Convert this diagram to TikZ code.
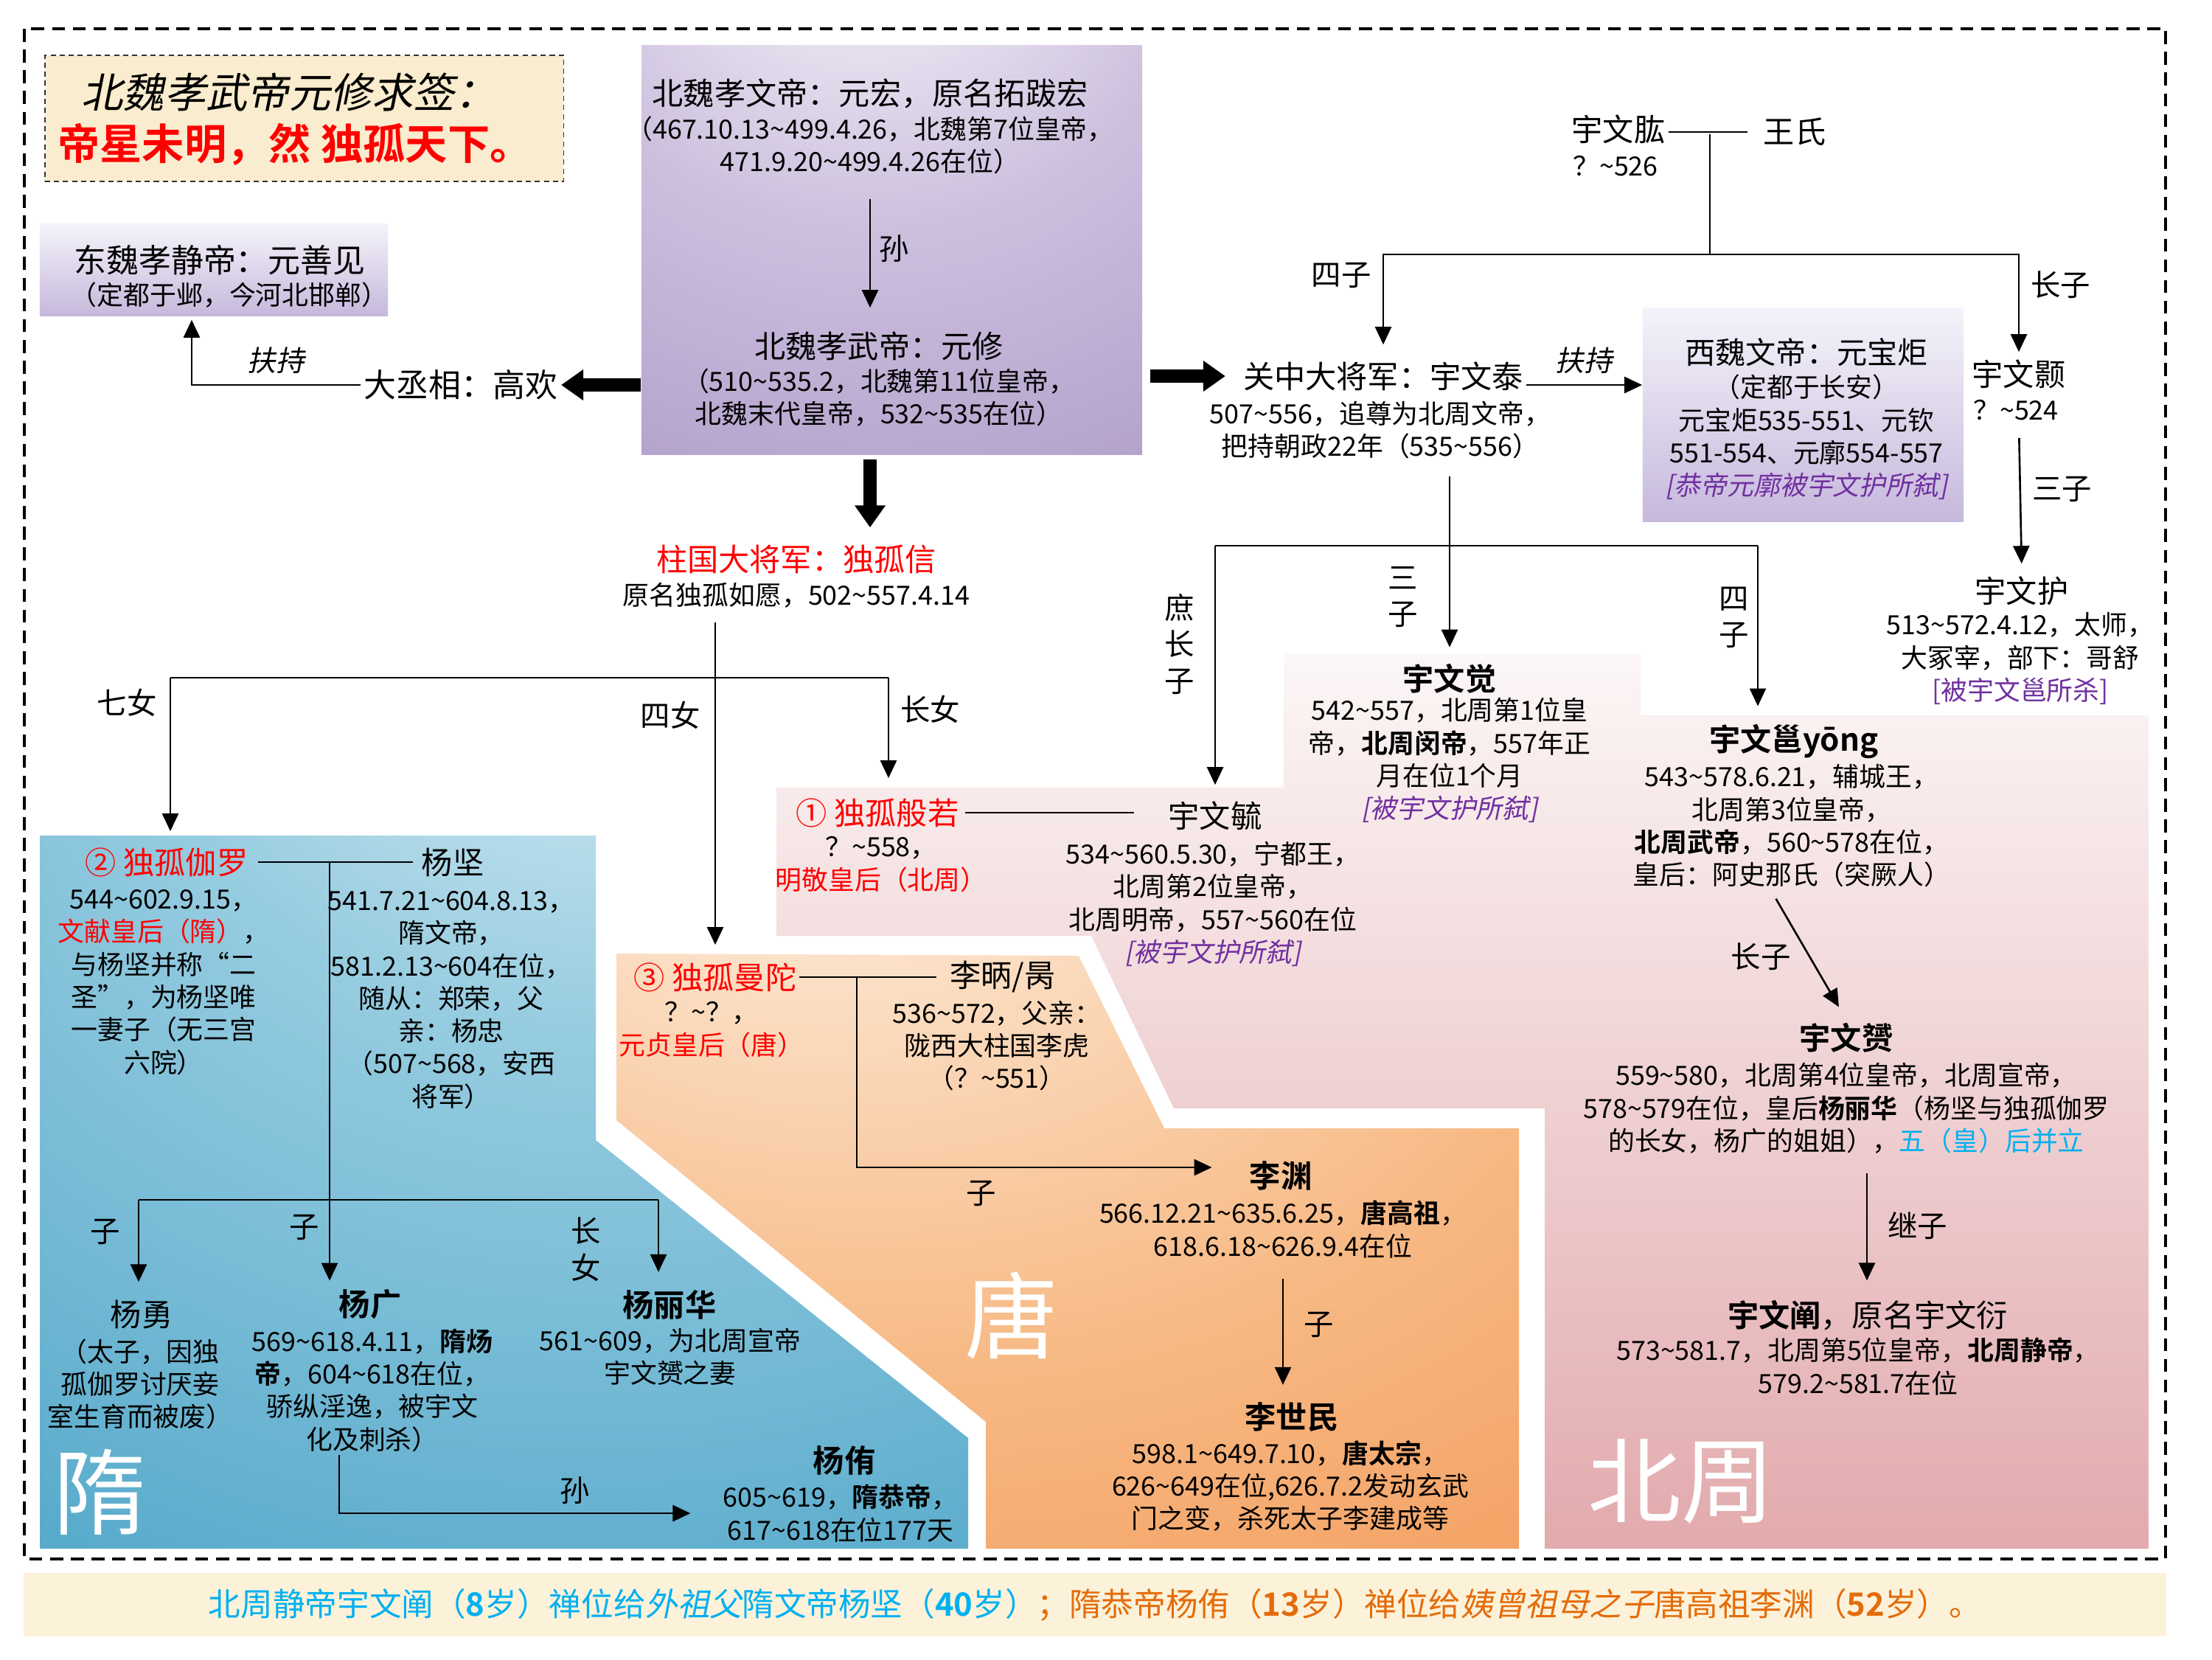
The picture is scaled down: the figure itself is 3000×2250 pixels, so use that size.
\documentclass[tikz,border=0pt]{standalone}
\usepackage{fontspec}
\setmainfont{Noto Sans CJK SC}[BoldFont={Noto Sans CJK SC Bold},ItalicFont={Noto Sans CJK SC},ItalicFeatures={FakeSlant=0.2}]
\usetikzlibrary{arrows.meta,positioning,calc}
\usepackage{xcolor}
\definecolor{zred}{RGB}{255,0,0}
\definecolor{kpurple}{RGB}{112,48,160}
\definecolor{skyblue}{RGB}{0,176,240}
\definecolor{bandorange}{RGB}{228,108,10}
\definecolor{cream}{RGB}{250,236,206}
\definecolor{bandcream}{RGB}{252,242,218}
\definecolor{lavlight}{RGB}{245,243,250}
\definecolor{lavdark}{RGB}{198,184,220}
\definecolor{purpmid}{RGB}{205,192,222}
\definecolor{purpdeep}{RGB}{168,148,196}
\definecolor{purpdark}{RGB}{132,104,164}
\definecolor{suiwhite}{RGB}{238,247,251}
\definecolor{suimid}{RGB}{150,204,224}
\definecolor{suidark}{RGB}{72,162,198}
\definecolor{tangwhite}{RGB}{255,250,244}
\definecolor{tanglight}{RGB}{251,222,195}
\definecolor{tangmid}{RGB}{247,185,132}
\definecolor{tangdark}{RGB}{243,155,90}
\definecolor{zhoutop}{RGB}{252,246,246}
\definecolor{zhoumid}{RGB}{237,210,212}
\definecolor{zhoubot}{RGB}{226,170,173}
\pgfdeclareradialshading{purpglow}{\pgfpoint{-3bp}{47bp}}{color(0bp)=(white); color(30bp)=(purpmid); color(65bp)=(purpdeep); color(100bp)=(purpdark)}
\pgfdeclareradialshading{suiglow}{\pgfpoint{8bp}{48bp}}{color(0bp)=(suiwhite); color(25bp)=(suimid); color(62bp)=(suidark); color(100bp)=(suidark)}
\pgfdeclareradialshading{tangglow}{\pgfpoint{-16bp}{45bp}}{color(0bp)=(tangwhite); color(16bp)=(tanglight); color(38bp)=(tangmid); color(62bp)=(tangdark); color(100bp)=(tangdark)}
\newcommand{\tld}{\char"7E\relax}
\tikzset{
  pname/.style={font=\fontsize{12}{14}\selectfont,inner sep=1pt},
  rname/.style={pname,text=zred},
  bname/.style={pname,font=\fontsize{12}{14}\selectfont\bfseries},
  pinfo/.style={font=\fontsize{10.2}{12.6}\selectfont,align=center,inner sep=1pt},
  elbl/.style={font=\fontsize{11.5}{14}\selectfont,align=center,inner sep=2pt},
  flbl/.style={elbl,font=\fontsize{11}{14}\selectfont\itshape},
  link/.style={-{Triangle[length=2.4mm,width=2.2mm]},line width=0.75pt},
  tie/.style={line width=0.75pt},
  fat/.style={-{Triangle[length=3mm,width=4mm]},line width=5pt},
  era/.style={font=\fontsize{36}{40}\selectfont,text=white},
  lavbox/.style={top color=lavlight,bottom color=lavdark,inner sep=0pt},
  frame/.style={draw=black,line width=1pt,dash pattern=on 5pt off 3pt}
}
\begin{document}
\begin{tikzpicture}[x=0.01cm,y=-0.01cm]
  \useasboundingbox (0,0) rectangle (3000,2250);
  \fill[white] (0,0) rectangle (3000,2250);
  % dynasty panels
  \shade[shading=suiglow] (54,1133) -- (808,1133) -- (808,1546) -- (1313,1950) -- (1313,2100) -- (54,2100) -- cycle;
  \shade[shading=tangglow] (836,1293) -- (1463,1296) -- (1579,1530) -- (2060,1530) -- (2060,2100) -- (1337,2100) -- (1337,1928) -- (836,1519) -- cycle;
  \shade[top color=zhoutop,middle color=zhoumid,bottom color=zhoubot] (1053,1068) -- (1741,1068) -- (1741,887) -- (2225,887) -- (2225,970) -- (2914,970) -- (2914,2100) -- (2095,2100) -- (2095,1503) -- (1592,1503) -- (1480,1269) -- (1053,1269) -- cycle;
  \draw[frame] (33,39) rectangle (2937,2114);
  \node[era] (sui) at (136,2023) {隋};
  \node[era] (tang) at (1372,1784) {唐};
  \node[era] (zhou) at (2280,2009) {北周};

  % title
  \node[draw=black!80,dash pattern=on 2pt off 1.5pt,fill=cream,minimum width=7.03cm,minimum height=1.71cm] (qian) at (412.5,160.5) {};
  \node[font=\fontsize{16}{18}\selectfont\itshape] (qtitle) at (392,125) {北魏孝武帝元修求签：};
  \node[font=\fontsize{16.3}{18}\selectfont\bfseries,text=zred] (qsign) at (400,196) {帝星未明，然 独孤天下。};

  % Northern Wei
  \node[lavbox,minimum width=4.72cm,minimum height=1.24cm] (dwbox) at (290,366) {};
  \node[pname,font=\fontsize{12.5}{14}\selectfont] (dwei) at (298,353) {东魏孝静帝：元善见};
  \node[pinfo] (dweiinfo) at (311,400) {（定都于邺，今河北邯郸）};
  \node[pname,font=\fontsize{12.5}{14}\selectfont] (gaohuan) at (625,522) {大丞相：高欢};
  \node[shade,shading=purpglow,minimum width=6.79cm,minimum height=5.54cm] (bwbox) at (1209.5,339) {};
  \node[pname] (xwen) at (1180,127) {北魏孝文帝：元宏，原名拓跋宏};
  \node[pinfo] (xweninfo) at (1180,197) {（467.10.13\tld499.4.26，北魏第7位皇帝，\\471.9.20\tld499.4.26在位）};
  \node[pname] (xwu) at (1192,469) {北魏孝武帝：元修};
  \node[pinfo] (xwuinfo) at (1192,539) {（510\tld535.2，北魏第11位皇帝，\\北魏末代皇帝，532\tld535在位）};

  % Yuwen clan
  \node[pname] (ygong) at (2195,175) {宇文肱};
  \node[pinfo,anchor=west] (ygongd) at (2129,225) {？\tld526};
  \node[pname] (wangshi) at (2434,179) {王氏};
  \node[pname] (ywt) at (1876,510) {关中大将军：宇文泰};
  \node[pinfo] (ywtinfo) at (1872,583) {507\tld556，追尊为北周文帝，\\把持朝政22年（535\tld556）};
  \node[lavbox,minimum width=4.35cm,minimum height=2.89cm] (xwbox) at (2445.5,562.5) {};
  \node[pname,font=\fontsize{11.7}{14}\selectfont] (xwei) at (2450,478) {西魏文帝：元宝炬};
  \node[pinfo] (xweiinfo) at (2450,593) {（定都于长安）\\元宝炬535-551、元钦\\551-554、元廓554-557\\\textcolor{kpurple}{\itshape [恭帝元廓被宇文护所弑]}};
  \node[pname] (yhao) at (2738,507) {宇文颢};
  \node[pinfo,anchor=west] (yhaod) at (2672,556) {？\tld524};
  \node[pname] (yhu) at (2742,801) {宇文护};
  \node[pinfo] (yhuinfo) at (2740,893) {513\tld572.4.12，太师，\\大冢宰，部下：哥舒\\\textcolor{kpurple}{[被宇文邕所杀]}};

  % Dugu Xin
  \node[rname] (dgx) at (1080,758) {柱国大将军：独孤信};
  \node[pinfo] (dgxinfo) at (1080,807) {原名独孤如愿，502\tld557.4.14};

  % Northern Zhou
  \node[rname] (dgbr) at (1190,1102) {① 独孤般若};
  \node[pinfo] (dgbrinfo) at (1195,1172) {？\tld558，\\\textcolor{zred}{明敬皇后（北周）}};
  \node[pname] (ywyu) at (1648,1106) {宇文毓};
  \node[pinfo] (ywyuinfo) at (1645,1226) {534\tld560.5.30，宁都王，\\北周第2位皇帝，\\北周明帝，557\tld560在位\\\textcolor{kpurple}{\itshape [被宇文护所弑]}};
  \node[bname] (ywjue) at (1966,920) {宇文觉};
  \node[pinfo] (ywjueinfo) at (1966,1031) {542\tld557，北周第1位皇\\帝，\textbf{北周闵帝}，557年正\\月在位1个月\\\textcolor{kpurple}{\itshape [被宇文护所弑]}};
  \node[bname] (ywyong) at (2433,1005) {宇文邕yōng};
  \node[pinfo] (ywyonginfo) at (2430,1120) {543\tld578.6.21，辅城王，\\北周第3位皇帝，\\\textbf{北周武帝}，560\tld578在位，\\皇后：阿史那氏（突厥人）};
  \node[bname] (ywyun) at (2504,1407) {宇文赟};
  \node[pinfo] (ywyuninfo) at (2504,1503) {559\tld580，北周第4位皇帝，北周宣帝，\\578\tld579在位，皇后\textbf{杨丽华}（杨坚与独孤伽罗\\的长女，杨广的姐姐），\textcolor{skyblue}{五（皇）后并立}};
  \node[pname] (ywchan) at (2533,1784) {\textbf{宇文阐}，原名宇文衍};
  \node[pinfo] (ywchaninfo) at (2520,1853) {573\tld581.7，北周第5位皇帝，\textbf{北周静帝}，\\579.2\tld581.7在位};

  % Sui
  \node[rname] (dgjl) at (226,1169) {② 独孤伽罗};
  \node[pname] (yj) at (614,1169) {杨坚};
  \node[pinfo] (dgjlinfo) at (222,1332) {544\tld602.9.15，\\\textcolor{zred}{文献皇后（隋）}，\\与杨坚并称“二\\圣”，为杨坚唯\\一妻子（无三宫\\六院）};
  \node[pinfo] (yjinfo) at (612,1356) {541.7.21\tld604.8.13，\\隋文帝，\\581.2.13\tld604在位，\\随从：郑荣，父\\亲：杨忠\\（507\tld568，安西\\将军）};
  \node[pname] (yy) at (192,1782) {杨勇};
  \node[pinfo] (yyinfo) at (190,1877) {（太子，因独\\孤伽罗讨厌妾\\室生育而被废）};
  \node[bname] (yg) at (502,1769) {杨广};
  \node[pinfo] (yginfo) at (505,1885) {569\tld618.4.11，\textbf{隋炀}\\\textbf{帝}，604\tld618在位，\\骄纵淫逸，被宇文\\化及刺杀）};
  \node[bname] (ylh) at (908,1769) {杨丽华};
  \node[pinfo] (ylhinfo) at (909,1840) {561\tld609，为北周宣帝\\宇文赟之妻};
  \node[bname] (yyou) at (1145,1980) {杨侑};
  \node[pinfo] (yyouinfo) at (1140,2052) {605\tld619，\textbf{隋恭帝}，\\617\tld618在位177天};

  % Tang
  \node[rname] (dgmt) at (970,1325) {③ 独孤曼陀};
  \node[pinfo] (dgmtinfo) at (965,1396) {？\tld？，\\\textcolor{zred}{元贞皇后（唐）}};
  \node[pname] (lb) at (1360,1325) {李昞/昺};
  \node[pinfo] (lbinfo) at (1352,1418) {536\tld572，父亲：\\陇西大柱国李虎\\（？\tld551）};
  \node[bname] (ly) at (1737,1594) {李渊};
  \node[pinfo] (lyinfo) at (1740,1667) {566.12.21\tld635.6.25，\textbf{唐高祖}，\\618.6.18\tld626.9.4在位};
  \node[bname] (lsm) at (1752,1922) {李世民};
  \node[pinfo] (lsminfo) at (1750,2015) {598.1\tld649.7.10，\textbf{唐太宗}，\\626\tld649在位,626.7.2发动玄武\\门之变，杀死太子李建成等};

  % bottom band
  \node[fill=bandcream,minimum width=29.04cm,minimum height=0.86cm,font=\fontsize{12.4}{14}\selectfont] (band) at (1485,2176)
    {\textcolor{skyblue}{北周静帝宇文阐（\textbf{8}岁）禅位给\textit{外祖父}隋文帝杨坚（\textbf{40}岁）}\textcolor{bandorange}{；隋恭帝杨侑（\textbf{13}岁）禅位给\textit{姨曾祖母之子}唐高祖李渊（\textbf{52}岁）。}};

  % Wei connectors
  \draw[link,shorten <=3mm,shorten >=2.8mm] (xweninfo.south) -- node[pos=0.47,right=0.04cm,elbl]{孙} (xweninfo.south |- xwu.north);
  \draw[fat] (bwbox.west |- gaohuan) -- (gaohuan.east);
  \draw[fat,shorten <=1mm,shorten >=2mm] (bwbox.east |- ywt) -- (ywt.west);
  \draw[fat,shorten <=0.6mm,shorten >=1.9mm] (bwbox.south -| xweninfo) -- (xweninfo |- dgx.north);
  \draw[link,shorten >=0.5mm] (gaohuan.west) -| node[pos=0.25,above=2pt,flbl]{扶持} ([xshift=-0.3cm]dwbox.south);
  \draw[link] ([yshift=-0.12cm]ywt.east) -- node[above=2pt,flbl]{扶持} ([yshift=-0.12cm]ywt.east -| xwbox.west);

  % Yuwen connectors
  \coordinate (ymid) at (2319,182);
  \coordinate (ybar) at (2319,345);
  \draw[tie,shorten >=1.8mm] (ygong.east |- wangshi) -- (wangshi.west);
  \draw[tie] (ymid) -- (ybar);
  \draw[link,shorten >=1.9mm] (ybar) -| node[pos=0.6,left=0.08cm,elbl]{四子} (ywt.north);
  \draw[link,shorten >=0.6mm] (ybar) -| node[pos=0.65,right=0.08cm,elbl]{长子} (yhao.north);
  \draw[link,shorten <=2mm,shorten >=1.3mm] (yhaod.south -| yhao) -- node[pos=0.44,right=0.08cm,elbl]{三子} (yhu.north);
  \coordinate (zbar) at (1966,740);
  \coordinate (zright) at (2384,740);
  \draw[link,shorten <=2mm,shorten >=1.8mm] (ywtinfo.south -| ywjue) -- node[pos=0.68,left=0.35cm,elbl]{三\\子} (ywjue.north);
  \draw[tie] (zbar -| ywyu) -- (zright);
  \draw[link,shorten >=1.8mm] (zbar -| ywyu) -- node[pos=0.39,left=0.2cm,elbl]{庶\\长\\子} (ywyu.north);
  \draw[link,shorten >=2mm] (zright) -- node[pos=0.41,left=0.04cm,elbl]{四\\子} (zright |- ywyong.north);
  \draw[link,shorten <=1.3mm,shorten >=2mm] ([xshift=-0.28cm]ywyonginfo.south) -- node[pos=0.51,left=0.17cm,elbl]{长子} (ywyun.north);
  \draw[link,shorten <=2.2mm,shorten >=2.3mm] ([xshift=0.28cm]ywyuninfo.south) -- node[pos=0.49,right=0.2cm,elbl]{继子} ([xshift=0.28cm]ywyuninfo.south |- ywchan.north);

  % Dugu daughters
  \coordinate (dl) at (231,919);
  \coordinate (dr) at (1205,919);
  \draw[tie] (dl) -- (dr);
  \draw[link,shorten >=1.8mm] (dl) -- node[pos=0.15,left=0.1cm,elbl]{七女} (dl |- dgjl.north);
  \draw[link,shorten >=2.3mm] (dr) -- node[pos=0.27,right=0.08cm,elbl]{长女} (dr |- dgbr.north);
  \draw[link,shorten <=1.6mm,shorten >=2mm] (dgxinfo.south -| dgmt) -- node[pos=0.3,left=0.12cm,elbl]{四女} (dgmt.north);

  % marriages
  \draw[tie,shorten <=0.5mm,shorten >=4.2mm] (dgbr.east) -- (dgbr.east -| ywyu.west);
  \draw[tie,shorten <=1mm,shorten >=0.8mm] (dgjl.east) -- (yj.west);
  \draw[tie,shorten >=1.4mm] (dgmt.east) -- (lb.west);

  % Sui connectors
  \coordinate (sj) at (447,1169);
  \coordinate (sl) at (188,1627);
  \coordinate (sr) at (893,1627);
  \draw[link,shorten >=0.8mm] (sj) -- node[pos=0.86,left=0.06cm,elbl]{子} (sj |- yg.north);
  \draw[tie] (sl) -- (sr);
  \draw[link,shorten >=2mm] (sl) -- node[pos=0.33,left=0.17cm,elbl]{子} (sl |- yy.north);
  \draw[link,shorten >=2mm] (sr) -- node[pos=0.57,left=0.7cm,elbl]{长\\女} (sr |- ylh.north);
  \draw[link,shorten >=4mm] ([xshift=-0.45cm]yginfo.south) |- node[pos=0.81,above=0.04cm,elbl]{孙} (yyouinfo.west);

  % Tang connectors
  \coordinate (tm) at (1162,1325);
  \draw[link,shorten >=4.7mm] (tm) |- node[pos=0.66,below=0.1cm,elbl]{子} ([yshift=0.11cm]ly.west);
  \draw[link,shorten <=2.4mm,shorten >=2mm] (lyinfo.south) -- node[pos=0.46,right=0.2cm,elbl]{子} (lyinfo.south |- lsm.north);
\end{tikzpicture}
\end{document}
